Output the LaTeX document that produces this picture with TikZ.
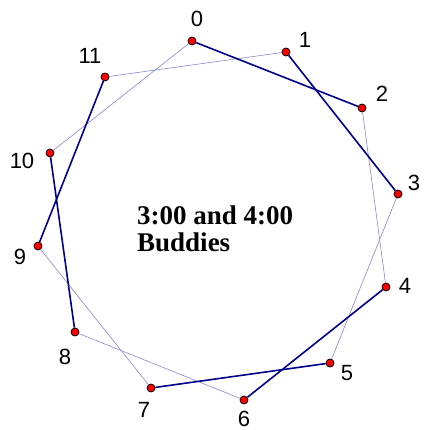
\documentclass[tikz,border=0pt]{standalone}
\usepackage{fontspec}
\setmainfont{Liberation Serif}
\newfontfamily\labelfont{Liberation Sans}
\usetikzlibrary{backgrounds}
\definecolor{buddy}{RGB}{0,0,140}
\definecolor{ring}{RGB}{135,135,205}

\begin{document}
\begin{tikzpicture}[
  x=1pt, y=-1pt,
  dot/.style={
    circle, draw=black, fill=red,
    minimum size=8pt, inner sep=0pt,
    line width=0.8pt
  },
  hour/.style={
    font=\labelfont\fontsize{22}{22}\selectfont,
    inner sep=0pt
  },
  pair/.style={draw=buddy, line width=1.6pt},
  chord/.style={draw=ring, line width=0.6pt}
]
\useasboundingbox (0,0) rectangle (423,430);

%% Clock points
\node[dot] (p0)  at (192,41)  {};
\node[dot] (p1)  at (286,52)  {};
\node[dot] (p2)  at (362,108) {};
\node[dot] (p3)  at (398,194) {};
\node[dot] (p4)  at (386,287) {};
\node[dot] (p5)  at (330,363) {};
\node[dot] (p6)  at (244,400) {};
\node[dot] (p7)  at (151,388) {};
\node[dot] (p8)  at (75,332)  {};
\node[dot] (p9)  at (38,246)  {};
\node[dot] (p10) at (50,153)  {};
\node[dot] (p11) at (105,77)  {};

%% Hour labels
\node[hour] (l0)  at (197,19)  {0};
\node[hour] (l1)  at (305,40)  {1};
\node[hour] (l2)  at (382,94)  {2};
\node[hour] (l3)  at (414,183) {3};
\node[hour] (l4)  at (405,286) {4};
\node[hour] (l5)  at (347,373) {5};
\node[hour] (l6)  at (244,419) {6};
\node[hour] (l7)  at (144,410) {7};
\node[hour] (l8)  at (65,357)  {8};
\node[hour] (l9)  at (20,257)  {9};
\node[hour] (l10) at (22,161)  {10};
\node[hour] (l11) at (90,56)   {11};

%% Title
\node[anchor=north west, align=left, inner sep=0pt,
      font=\bfseries\fontsize{27}{27}\selectfont]
  (title) at (137,206) {3:00 and 4:00\\Buddies};

%% --- Connectors ---
\begin{scope}[on background layer]
  \draw[chord] (p0)  -- (p10);
  \draw[chord] (p11) -- (p1);
  \draw[chord] (p2)  -- (p4);
  \draw[chord] (p3)  -- (p5);
  \draw[chord] (p6)  -- (p8);
  \draw[chord] (p7)  -- (p9);

  \draw[pair] (p0)  -- (p2);
  \draw[pair] (p1)  -- (p3);
  \draw[pair] (p4)  -- (p6);
  \draw[pair] (p5)  -- (p7);
  \draw[pair] (p8)  -- (p10);
  \draw[pair] (p9)  -- (p11);
\end{scope}

\end{tikzpicture}
\end{document}
